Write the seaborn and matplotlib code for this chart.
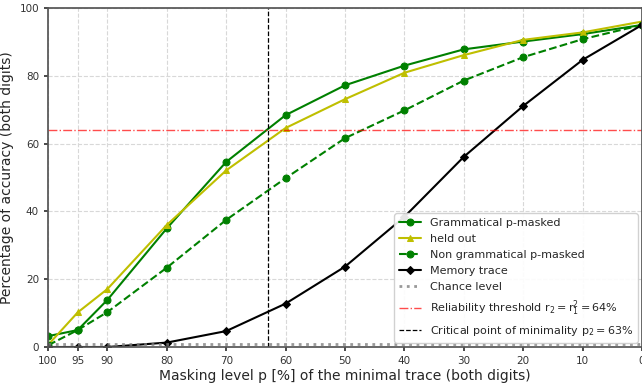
import numpy as np
import pandas as pd
import matplotlib
matplotlib.use("Agg")
import matplotlib.pyplot as plt
import seaborn as sns

# masking level p [%]
levels = [100, 95, 90, 80, 70, 60, 50, 40, 30, 20, 10, 0]

grammatical = [3.2, 5.0, 13.9, 35.0, 54.6, 68.4, 77.2, 83.0, 87.8, 90.1, 92.3, 95.0]
held_out = [0.6, 10.2, 17.1, 36.0, 52.1, 64.6, 73.1, 80.9, 86.1, 90.6, 92.8, 96.0]
non_grammatical = [0.5, 5.0, 10.3, 23.4, 37.5, 49.8, 61.6, 69.8, 78.6, 85.5, 90.8, 95.0]
memory_trace = [0.0, 0.0, 0.0, 1.3, 4.7, 12.8, 23.7, 38.4, 56.1, 71.1, 84.7, 95.0]

chance_level = 1
reliability = 64
critical_p = 63

xticks = [100, 95, 90, 80, 70, 60, 50, 40, 30, 20, 10, 0]
yticks = [0, 20, 40, 60, 80, 100]

sns.set_theme(style="ticks")
plt.rcParams['font.family'] = ['DejaVu Sans']
plt.rcParams['mathtext.default'] = 'regular'

GREEN = '#008000'
YELLOW = '#bfbf00'

fig = plt.figure(figsize=(6.42, 3.83), dpi=100)
ax = fig.add_axes([48 / 642, 36 / 383, 594 / 642, 339 / 383])

df = pd.DataFrame({'p': levels})

sns.lineplot(x=df['p'], y=grammatical, ax=ax, color=GREEN, marker='o', markersize=5,
             markeredgecolor=GREEN, linewidth=1.5, label='Grammatical p-masked')
sns.lineplot(x=df['p'], y=held_out, ax=ax, color=YELLOW, marker='^', markersize=5,
             markeredgecolor=YELLOW, linewidth=1.5, label='held out')
sns.lineplot(x=df['p'], y=non_grammatical, ax=ax, color=GREEN, marker='o', markersize=5,
             markeredgecolor=GREEN, linewidth=1.5, linestyle='--', label='Non grammatical p-masked')
sns.lineplot(x=df['p'], y=memory_trace, ax=ax, color='black', marker='D', markersize=4.5,
             markeredgecolor='black', linewidth=1.5, label='Memory trace')

ax.axhline(chance_level, color='grey', linestyle=':', linewidth=2, alpha=0.8, label='Chance level')
ax.axhline(reliability, color='red', linestyle='-.', linewidth=1, alpha=0.7,
           label=r'Reliability threshold $r_2 = r_1^2 = 64\%$')
ax.axvline(critical_p, color='black', linestyle='--', linewidth=0.9,
           label=r'Critical point of minimality $p_2 = 63\%$')

ax.set_xlim(100, 0)
ax.set_ylim(0, 100)
ax.set_xticks(xticks)
ax.set_yticks(yticks)
ax.tick_params(labelsize=7.5, length=3, colors='#333333')
ax.grid(True, linestyle='--', color='#d8d8d8', linewidth=0.8)
for s in ax.spines.values():
    s.set_color('#555555')

ax.set_xlabel('Masking level p [%] of the minimal trace (both digits)', fontsize=10, labelpad=2)
ax.set_ylabel('Percentage of accuracy (both digits)', fontsize=10)

ax.legend(loc='lower right', fontsize=8, labelspacing=0.55, borderaxespad=0.4,
          handlelength=2.0, framealpha=0.9)

plt.savefig('out.png', dpi=100)
plt.close()
